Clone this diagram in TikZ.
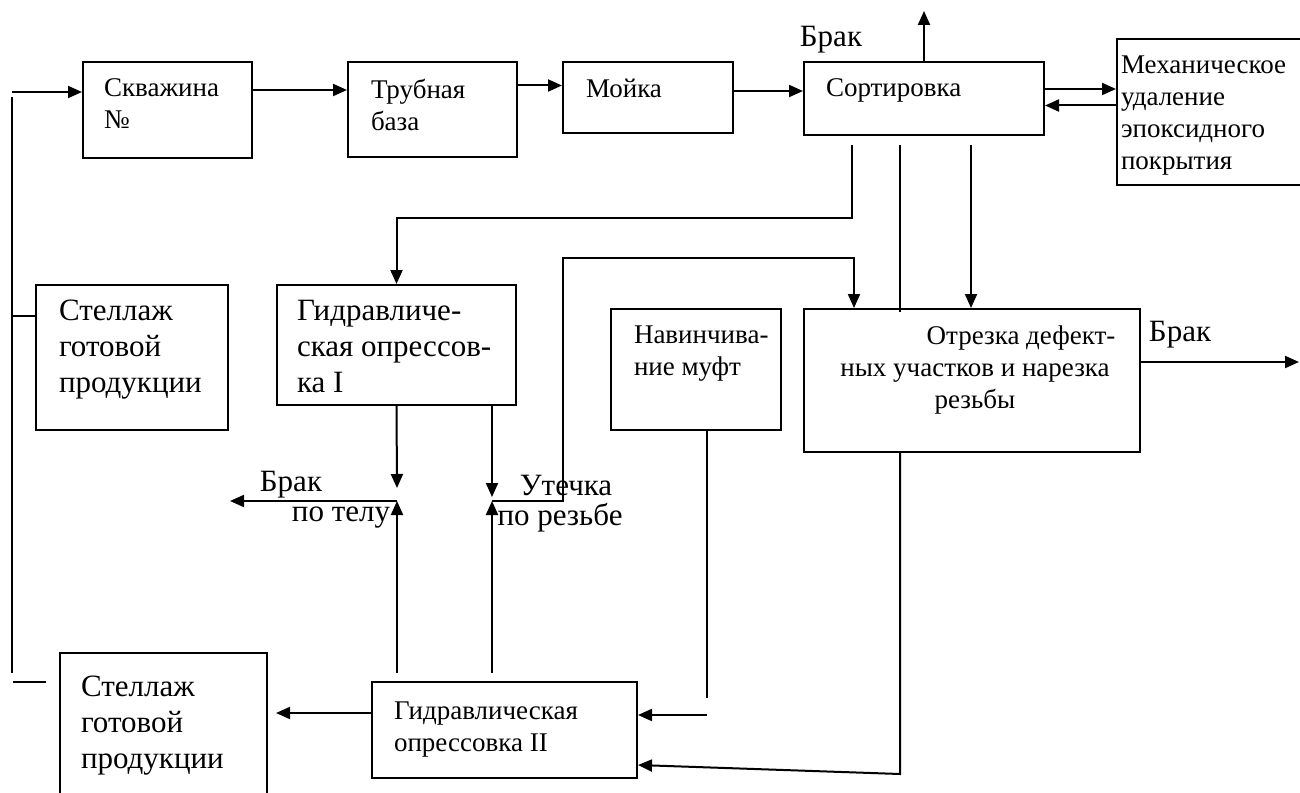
\documentclass[tikz,border=0pt]{standalone}
\usepackage{fontspec}
\setmainfont{Liberation Serif}
\usetikzlibrary{arrows.meta,fit}
\tikzset{
  blk/.style={draw, inner sep=0pt},
  sm/.style={font=\fontsize{13.5pt}{16pt}\selectfont, inner sep=0pt, align=left, anchor=north west},
  bg/.style={font=\fontsize{15.5pt}{18pt}\selectfont, inner sep=0pt, align=left, anchor=north west},
  lbl/.style={font=\fontsize{15.5pt}{18pt}\selectfont, inner sep=0pt}
}
\begin{document}
\begin{tikzpicture}[x=0.5pt,y=-0.5pt,line width=1pt,>={Triangle[length=7pt,width=6pt]}]
        \clip (0,0) rectangle (1300,792);
        % blocks
        \node[blk, fit={(83,62) (252,158)}] (well) {};
        \node[blk, fit={(348,62) (517,157)}] (base) {};
        \node[blk, fit={(563,62) (733,133)}] (wash) {};
        \node[blk, fit={(804,62) (1044,135)}] (sort) {};
        \node[blk, fit={(1117,39) (1320,185)}] (epox) {};
        \node[blk, fit={(36,285) (228,430)}] (rack1) {};
        \node[blk, fit={(277,285) (516,405)}] (hydro1) {};
        \node[blk, fit={(611,309) (781,430)}] (coupl) {};
        \node[blk, fit={(804,309) (1140,452)}] (cut) {};
        \node[blk, fit={(60,653) (267,800)}] (rack2) {};
        \node[blk, fit={(372,682) (637,778)}] (hydro2) {};
        % texts
        \node[sm] (wellT) at (103,78) {Скважина\\№};
        \node[sm] (baseT) at (370,78) {Трубная\\база};
        \node[sm] (washT) at (585,78) {Мойка};
        \node[sm] (sortT) at (825,78) {Сортировка};
        \node[sm] (epoxT) at (1120,55) {Механическое\\удаление\\эпоксидного\\покрытия};
        \node[bg] (rack1T) at (58,299) {Стеллаж\\готовой\\продукции};
        \node[bg] (hydro1T) at (296,299) {Гидравличе-\\ская опрессов-\\ка I};
        \node[sm] (couplT) at (633,325) {Навинчива-\\ние муфт};
        \node[sm, align=center, anchor=north] (cutT) at (975,325) {\hspace*{46pt}Отрезка дефект-\\ных участков и нарезка\\резьбы};
        \node[bg] (rack2T) at (80,675) {Стеллаж\\готовой\\продукции};
        \node[sm] (hydro2T) at (393,701) {Гидравлическая\\опрессовка II};
        \node[lbl] (rejTop) at (831,40) {Брак};
        \node[lbl] (rejCut) at (1180,335) {Брак};
        \node[lbl] (rejBody) at (291,485) {Брак};
        \node[lbl] (rejBodyB) at (341,518) {по телу};
        \node[lbl] (leak) at (566,485) {Утечка};
        \node[lbl] (leakB) at (560,518) {по резьбе};
        % free ends
        \coordinate (in) at (12,92);
        \coordinate (b1) at (852,145);
        \coordinate (b2) at (900,145);
        \coordinate (b3) at (971,145);
        \coordinate (j1) at (397,501);
        \coordinate (j2) at (492,501);
        \coordinate (u1) at (397,673);
        \coordinate (u2) at (492,673);
        \coordinate (c1) at (707,715);
        % main line
        \draw[->] (in) -- (in -| well.west);
        \draw[->] ([yshift=10pt]well.east) coordinate (a1) -- (a1 -| base.west);
        \draw[->] ([yshift=12pt]base.east) coordinate (a2) -- (a2 -| wash.west);
        \draw[->] ([yshift=3.25pt]wash.east) coordinate (a3) -- (a3 -| sort.west);
        \draw[->] (sort.north) -- ++(0,-50);
        \draw[->] ([yshift=4.75pt]sort.east) coordinate (a4) -- (a4 -| epox.west);
        \draw[<-] ([yshift=-3.5pt]sort.east) coordinate (a5) -- (a5 -| epox.west);
        % from sorting
        \draw[->] (b1) -- ++(0,73) -| (hydro1.north);
        \draw (b2) -- (b2 |- cut.north) -- ++(0,4);
        \draw[->] (b3) -- (b3 |- cut.north);
        \draw[->] (b2 |- cut.south) -- ++(0,321) -- ([yshift=-17.5pt]hydro2.east);
        \draw[->] ([yshift=9.25pt]cut.east) -- ++(158,0);
        % pressure test I
        \draw[->] (hydro1.south) -- ([yshift=6.5pt]j1);
        \draw[->] (hydro1.south -| j2) -- ([yshift=2pt]j2);
        \draw[->] (j1) -- ++(-167,0);
        \draw[->] (u1) -- (j1);
        \draw[->] (u2) -- (j2);
        \draw[->] (j2) -- ++(71,0) -- ++(0,-243) -| ([xshift=-59pt]cut.north);
        % pressure test II
        \draw ([xshift=5.5pt]coupl.south) -- ++(0,267);
        \draw[->] (c1) -- (c1 -| hydro2.east);
        \draw[->] ([yshift=8.5pt]hydro2.west) -- ++(-95,0);
        % return to the well
        \draw (in) ++(0,5) -- ++(0,576);
        \draw ([yshift=20.75pt]rack1.west) -- ++(-24,0);
        \draw (13,682) -- (46,682);
\end{tikzpicture}
\end{document}
